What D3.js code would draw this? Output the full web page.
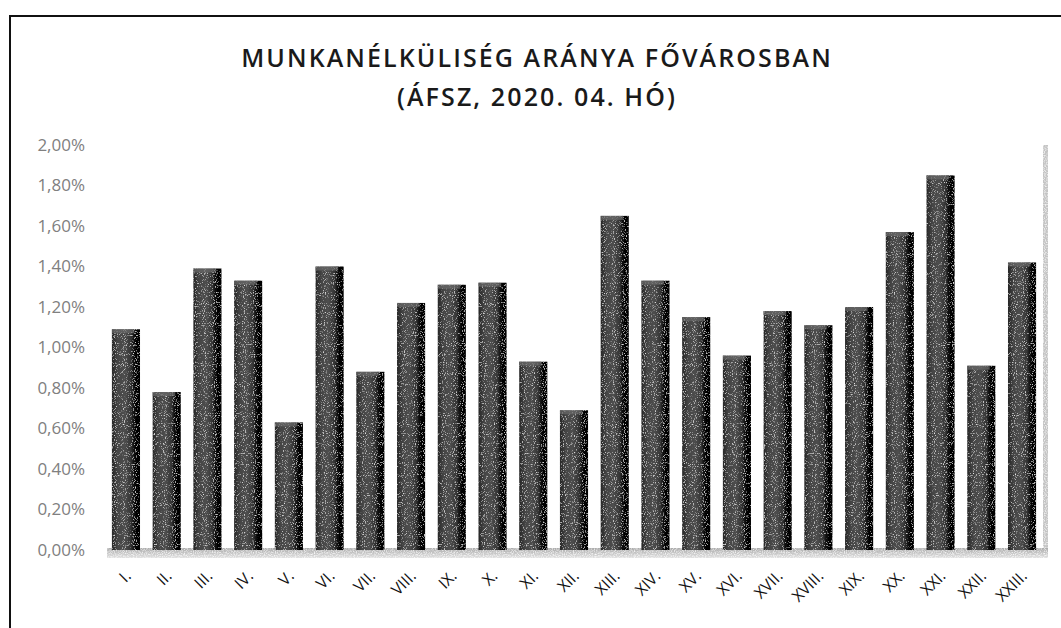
<!DOCTYPE html>
<html>
<head>
<meta charset="utf-8">
<script src="https://cdn.jsdelivr.net/npm/d3@7"></script>
<style>
  body { margin: 0; background: #fff; }
  svg { display: block; }
</style>
</head>
<body>
<svg id="chart" width="1061" height="628"></svg>
<script>
// districts of Budapest and unemployment rate
var districts = ["I.", "II.", "III.", "IV.", "V.", "VI.", "VII.", "VIII.", "IX.", "X.", "XI.", "XII.",
  "XIII.", "XIV.", "XV.", "XVI.", "XVII.", "XVIII.", "XIX.", "XX.", "XXI.", "XXII.", "XXIII."];
var rates = [0.0109, 0.0078, 0.0139, 0.0133, 0.0063, 0.0140, 0.0088, 0.0122, 0.0131, 0.0132, 0.0093, 0.0069,
  0.0165, 0.0133, 0.0115, 0.0096, 0.0118, 0.0111, 0.0120, 0.0157, 0.0185, 0.0091, 0.0142];
var yTicks = [0, 0.002, 0.004, 0.006, 0.008, 0.010, 0.012, 0.014, 0.016, 0.018, 0.020];
var titleLines = ["MUNKANÉLKÜLISÉG ARÁNYA FŐVÁROSBAN", "(ÁFSZ, 2020. 04. HÓ)"];

var svg = d3.select("#chart");
var defs = svg.append("defs");

// cylinder-ish shading of the bars
var grad = defs.append("linearGradient").attr("id", "barGrad")
  .attr("x1", "0").attr("x2", "1").attr("y1", "0").attr("y2", "0");
[["0%", "#262626"], ["20%", "#444"], ["45%", "#4e4e4e"], ["68%", "#343434"], ["80%", "#080808"], ["100%", "#000"]]
  .forEach(function(s) { grad.append("stop").attr("offset", s[0]).attr("stop-color", s[1]); });

var floorGrad = defs.append("linearGradient").attr("id", "floorGrad")
  .attr("x1", "0").attr("x2", "0").attr("y1", "0").attr("y2", "1");
floorGrad.append("stop").attr("offset", "0%").attr("stop-color", "#a9a9a9");
floorGrad.append("stop").attr("offset", "100%").attr("stop-color", "#e2e2e2");

// scanner speckle
function speckle(id, k, b) {
  var f = defs.append("filter").attr("id", id).attr("x", 0).attr("y", 0).attr("width", 1).attr("height", 1);
  f.append("feTurbulence").attr("type", "fractalNoise").attr("baseFrequency", 0.9).attr("numOctaves", 1).attr("result", "n");
  f.append("feColorMatrix").attr("in", "n").attr("type", "matrix")
    .attr("values", "0 0 0 0 1  0 0 0 0 1  0 0 0 0 1  0 0 0 " + k + " " + b).attr("result", "dots");
  f.append("feComposite").attr("in", "dots").attr("in2", "SourceGraphic").attr("operator", "in").attr("result", "d2");
  f.append("feMerge").selectAll("feMergeNode").data(["SourceGraphic", "d2"]).enter()
    .append("feMergeNode").attr("in", function(d) { return d; });
}
speckle("speckle", -3, 1.3);
speckle("speckleLight", -2.2, 1.25);

// frame (cut off on the right/bottom in the scan)
svg.append("path").attr("d", "M10,628 L10,16 L1061,16")
  .attr("fill", "none").attr("stroke", "#111").attr("stroke-width", 2);

var x = d3.scaleBand().domain(districts).range([105.6, 1042.4]).paddingInner(0.31).paddingOuter(0.155);
var y = d3.scaleLinear().domain([0, 0.02]).range([550, 145]);

// title
svg.append("g").selectAll("text").data(titleLines).enter().append("text")
  .attr("x", 537).attr("y", function(d, i) { return 67 + i * 39; })
  .attr("text-anchor", "middle")
  .attr("font-family", "Open Sans, sans-serif").attr("font-size", 25).attr("font-weight", 600)
  .attr("letter-spacing", 2.1)
  .attr("fill", "#1a1a1a")
  .text(function(d) { return d; });

// right wall edge and floor
svg.append("rect").attr("x", 1043).attr("y", y(0.02)).attr("width", 5).attr("height", y(0) - y(0.02) + 2)
  .attr("fill", "#c4c4c4").attr("filter", "url(#speckleLight)");
svg.append("rect").attr("x", 107).attr("y", y(0) - 2).attr("width", 941).attr("height", 10)
  .attr("fill", "url(#floorGrad)").attr("filter", "url(#speckleLight)");

// y axis labels
var fmt = d3.format(".2%");
svg.append("g").selectAll("text").data(yTicks).enter().append("text")
  .attr("x", 85).attr("y", function(d) { return y(d); })
  .attr("dy", "0.35em").attr("text-anchor", "end")
  .attr("font-family", "Open Sans, sans-serif").attr("font-size", 17)
  .attr("fill", "#808080")
  .text(function(d) { return fmt(d).replace(".", ","); });

// bars
var bars = svg.append("g").selectAll("g").data(rates).enter().append("g");
bars.append("rect")
  .attr("x", function(d, i) { return x(districts[i]); })
  .attr("y", function(d) { return y(d); })
  .attr("width", x.bandwidth())
  .attr("height", function(d) { return y(0) - y(d); })
  .attr("fill", "url(#barGrad)")
  .attr("filter", "url(#speckle)");
// lighter bevel on top
bars.append("rect")
  .attr("x", function(d, i) { return x(districts[i]); })
  .attr("y", function(d) { return y(d); })
  .attr("width", x.bandwidth() * 0.8)
  .attr("height", 4)
  .attr("fill", "#6a6a6a").attr("opacity", 0.7);

// x labels, rotated
svg.append("g").selectAll("text").data(districts).enter().append("text")
  .attr("transform", function(d) {
    return "translate(" + (x(d) + x.bandwidth() / 2 + 6) + ",577) rotate(-45)";
  })
  .attr("text-anchor", "end")
  .attr("font-family", "Open Sans, sans-serif").attr("font-size", 16)
  .attr("fill", "#111")
  .text(function(d) { return d; });
</script>
</body>
</html>
